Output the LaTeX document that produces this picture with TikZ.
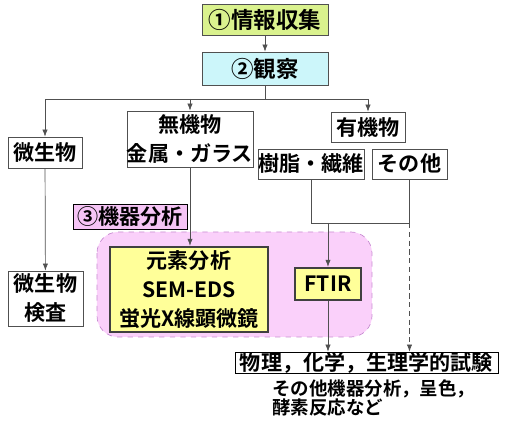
\documentclass[tikz,border=0pt]{standalone}
\usepackage{fontspec}
\setmainfont{Noto Sans CJK JP}[BoldFont={Noto Sans CJK JP Bold}]
\usetikzlibrary{arrows.meta}
\definecolor{verde}{HTML}{DAF28E}
\definecolor{celeste}{HTML}{CCF6FA}
\definecolor{rosa}{HTML}{F5C4F5}
\definecolor{rosaclaro}{HTML}{FAD0FA}
\definecolor{borde}{HTML}{C88CD2}
\definecolor{amarillo}{HTML}{FFFF99}
\definecolor{linea}{HTML}{505050}
\begin{document}
\begin{tikzpicture}[x=0.02cm, y=-0.02cm,
				caja/.style={draw=linea, fill=white, inner sep=0pt, align=center,
					font=\fontsize{12}{16.5}\selectfont\bfseries},
				titulo/.style={caja, font=\fontsize{12.8}{16}\selectfont\bfseries},
				equipo/.style={caja, fill=amarillo, draw=black!75, line width=1.3pt},
				flecha/.style={draw=linea, -{Latex[length=4pt, width=3pt]}}]
				\useasboundingbox (0,0) rectangle (512,442);
				% zona de analisis
				\draw[borde, fill=rosaclaro, dashed, rounded corners=12pt]
					(97,232) rectangle (372,337);
				\node[titulo, fill=verde, minimum width=126*0.02cm, minimum height=31*0.02cm] (info) at (265,19.5) {①情報収集};
				\node[titulo, fill=celeste, minimum width=126*0.02cm, minimum height=33*0.02cm] (obs) at (265,68.5) {②観察};
				\node[caja, minimum width=74*0.02cm, minimum height=31*0.02cm] (micro) at (45,152.5) {微生物};
				\node[caja, minimum width=120*0.02cm, minimum height=56*0.02cm] (inorg) at (190,139) {無機物\\金属・ガラス};
				\node[caja, minimum width=74*0.02cm, minimum height=30*0.02cm] (org) at (368,127) {有機物};
				\node[caja, minimum width=106*0.02cm, minimum height=30*0.02cm] (resina) at (311,164) {樹脂・繊維};
				\node[caja, minimum width=75*0.02cm, minimum height=30*0.02cm] (otro) at (409.5,164) {その他};
				\node[caja, fill=rosa, draw=black, minimum width=114*0.02cm, minimum height=25*0.02cm] (instr) at (130,216.5) {③機器分析};
				\node[equipo, minimum width=158*0.02cm, minimum height=85*0.02cm] (elem) at (189,289.5) {元素分析\\SEM-EDS\\蛍光X線顕微鏡};
				\node[equipo, minimum width=66*0.02cm, minimum height=32*0.02cm] (ftir) at (328,284) {FTIR};
				\node[caja, minimum width=75*0.02cm, minimum height=55*0.02cm] (prueba) at (45.5,298.5) {微生物\\検査};
				\node[caja, draw=black, minimum width=263*0.02cm, minimum height=21*0.02cm] (fis) at (366.5,362.5) {物理，化学，生理学的試験};
				\node[anchor=north west, inner sep=0pt, align=left,
					font=\fontsize{10.5}{10.8}\selectfont\bfseries] (nota) at (272,379) {その他機器分析，呈色，\\酵素反応など};
				% conexiones
				\coordinate (hub) at (265,99);
				\coordinate (union) at (409.5,223);
				\draw[linea] (obs) -- (hub);
				\draw[flecha] (info) -- (obs);
				\draw[flecha] (hub) -| (micro);
				\draw[flecha] (hub) -| (org);
				\draw[flecha] (inorg.north |- hub) -- (inorg);
				\draw[flecha] (micro) -- (prueba);
				\draw[flecha] (inorg.south) -- (inorg.south |- elem.north);
				\draw[linea] (resina) |- (union);
				\draw[linea] (otro) -- (union);
				\draw[flecha] (ftir.north |- union) -- (ftir);
				\draw[flecha] (ftir) -- (ftir |- fis.north);
				\draw[flecha, densely dashed] (union) -- (union |- fis.north);
			\end{tikzpicture}
\end{document}
